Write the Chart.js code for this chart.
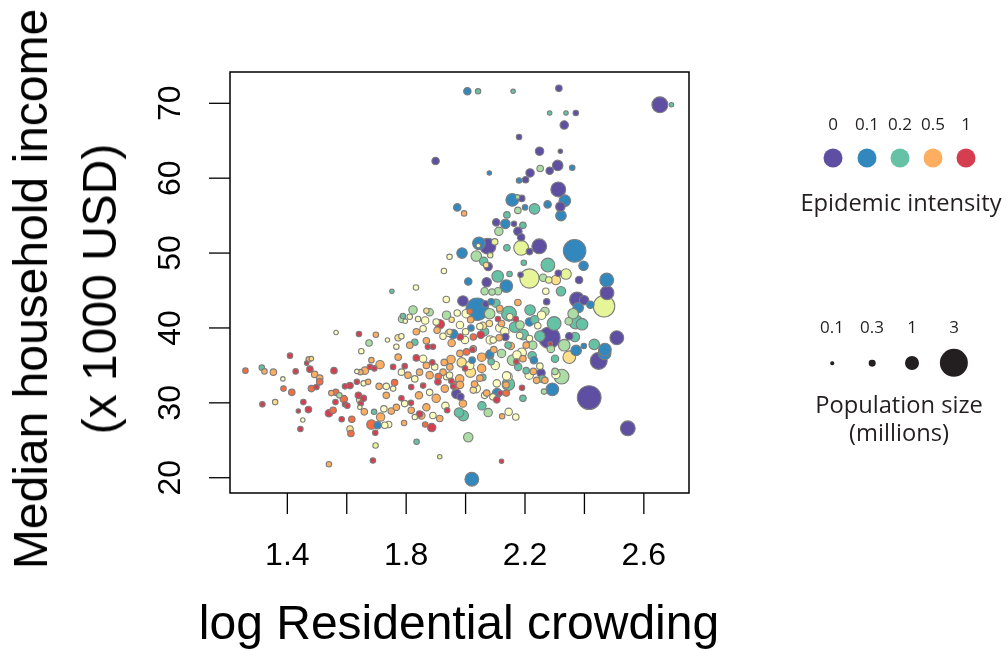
<!DOCTYPE html>
<html>
<head>
<meta charset="utf-8">
<script src="https://cdn.jsdelivr.net/npm/chart.js@4.4.0/dist/chart.umd.min.js"></script>
<style>
html, body { margin: 0; padding: 0; background: #fff; }
#wrap { position: relative; width: 1008px; height: 651px; overflow: hidden; }
#chart { position: absolute; left: 0; top: 0; }
.t { position: absolute; white-space: nowrap; line-height: 1; transform: translate(-50%, -50%); color: #000; }
.ax { font-family: "Liberation Sans", Arial, sans-serif; font-size: 48px; }
.rot { transform: translate(-50%, -50%) rotate(-90deg); }
.lg { font-family: "Open Sans", sans-serif; color: #231f20; }
.dot { position: absolute; border-radius: 50%; transform: translate(-50%, -50%); }
</style>
</head>
<body>
<div id="wrap">
    <canvas id="chart" width="1008" height="651"></canvas>
    <div class="t ax rot" style="left:31px; top:289px;">Median household income</div>
    <div class="t ax rot" style="left:100px; top:289px;">(x 1000 USD)</div>
    <div class="t ax" style="left:459px; top:623px;">log Residential crowding</div>
    <div id="legend"></div>
</div>

<script>
// x = log residential crowding, y = median household income (1000 USD), pop in millions
// one array per epidemic intensity level
const int000 = [
    [2.180, 65.5, 0.19], [1.899, 62.3, 0.33], [2.217, 60.7, 0.41], [2.202, 59.8, 0.26],
    [2.189, 57.3, 0.26], [2.314, 72.0, 0.26], [2.654, 69.8, 1.18], [2.371, 68.7, 0.19],
    [2.332, 67.1, 0.41], [2.249, 63.6, 0.41], [2.319, 63.6, 0.13], [2.283, 61.0, 0.33],
    [2.310, 61.7, 0.60], [2.312, 58.5, 1.05], [2.319, 56.2, 0.50], [2.103, 54.1, 0.33],
    [2.163, 53.9, 0.19], [2.176, 52.9, 0.41], [2.187, 52.1, 0.33], [2.075, 50.9, 1.18],
    [2.215, 50.2, 0.26], [2.076, 48.2, 0.41], [2.071, 46.1, 0.50], [2.185, 47.1, 0.19],
    [1.991, 43.6, 0.60], [2.068, 43.2, 0.26], [2.134, 38.8, 0.33], [2.416, 30.7, 2.23],
    [2.546, 26.6, 1.05], [2.448, 35.6, 1.31], [2.254, 34.0, 0.41], [2.248, 50.9, 1.05],
    [2.312, 47.3, 0.26], [2.382, 46.4, 0.33], [2.476, 44.7, 0.93], [2.375, 43.8, 1.05],
    [2.399, 43.7, 0.50], [2.509, 38.7, 0.93], [2.282, 38.7, 1.90], [2.349, 38.9, 0.33],
    [1.969, 31.2, 0.50], [1.983, 30.8, 0.30], [2.273, 43.5, 0.26]
];
const int010 = [
    [2.006, 71.6, 0.33], [2.080, 60.7, 0.13], [2.180, 59.7, 0.19], [2.157, 57.1, 0.81],
    [1.972, 56.1, 0.33], [2.200, 56.1, 0.19], [2.359, 61.4, 0.19], [2.334, 57.0, 0.70],
    [2.276, 56.5, 0.33], [2.134, 53.9, 0.50], [2.045, 51.3, 0.81], [1.988, 50.0, 0.60],
    [2.009, 46.2, 0.33], [2.137, 45.6, 0.81], [2.039, 42.5, 2.05], [2.215, 40.8, 0.41],
    [2.021, 19.8, 0.93], [2.106, 31.3, 0.50], [2.081, 36.4, 0.41], [2.468, 36.6, 0.81],
    [2.292, 31.8, 0.81], [2.321, 55.0, 0.60], [2.367, 50.3, 2.05], [2.397, 48.3, 0.50],
    [2.475, 46.4, 0.93], [2.379, 42.7, 0.60], [2.420, 43.1, 0.33], [2.469, 37.1, 0.81],
    [2.398, 37.6, 0.19], [2.230, 35.7, 0.33], [2.082, 36.6, 0.33], [2.022, 35.7, 0.26],
    [1.704, 27.0, 0.33], [1.958, 39.2, 0.50], [2.018, 40.0, 0.26], [2.372, 37.0, 0.60],
    [2.086, 43.5, 0.26]
];
const int020 = [
    [2.042, 71.6, 0.19], [2.160, 71.6, 0.13], [2.693, 69.8, 0.13], [2.283, 68.7, 0.13],
    [2.338, 68.7, 0.13], [2.232, 55.9, 0.60], [2.139, 55.1, 0.26], [2.193, 53.7, 0.26],
    [2.139, 50.7, 0.26], [2.061, 48.9, 0.41], [2.196, 48.7, 0.19], [2.108, 46.9, 0.70],
    [2.148, 47.2, 0.19], [1.752, 44.9, 0.13], [2.146, 41.9, 1.05], [1.789, 41.6, 0.19],
    [2.165, 40.1, 0.60], [1.835, 24.8, 0.19], [1.992, 28.3, 0.60], [1.978, 28.7, 0.50],
    [2.055, 29.6, 0.41], [2.144, 32.5, 0.81], [2.301, 35.9, 0.33], [2.259, 33.2, 0.33],
    [2.277, 48.4, 0.93], [2.321, 44.9, 0.50], [2.298, 40.6, 0.93], [2.371, 40.8, 0.93],
    [2.392, 40.5, 0.70], [2.433, 37.8, 0.60], [2.368, 38.8, 0.50], [2.250, 38.9, 0.60],
    [2.194, 39.1, 0.60], [2.102, 43.3, 0.41], [2.064, 39.5, 0.41], [1.314, 34.7, 0.19],
    [1.692, 28.8, 0.19], [1.829, 38.1, 0.26], [2.086, 35.5, 0.26], [2.204, 34.3, 0.26],
    [2.224, 36.3, 0.41], [2.217, 42.4, 0.60], [2.233, 41.1, 0.41], [2.177, 34.8, 0.33],
    [2.143, 37.7, 0.26], [2.058, 33.4, 0.26], [2.193, 30.6, 0.26]
];
const int025 = [
    [2.175, 57.5, 0.13], [2.176, 55.7, 0.26], [2.112, 52.9, 0.41], [2.036, 49.6, 0.60],
    [2.109, 44.9, 0.33], [2.064, 44.9, 0.33], [2.089, 44.8, 0.26], [1.823, 42.4, 0.41],
    [1.879, 42.1, 0.33], [2.081, 41.9, 0.60], [2.009, 25.4, 0.50], [2.076, 28.7, 0.41],
    [2.323, 33.5, 1.05], [2.264, 31.5, 0.19], [2.251, 61.3, 0.26], [2.261, 46.7, 0.33],
    [2.267, 42.2, 0.41], [2.362, 41.9, 0.60], [2.347, 40.9, 0.33], [2.287, 37.2, 0.33],
    [2.332, 37.7, 0.70], [2.226, 37.7, 0.41], [2.158, 35.7, 0.60], [2.301, 34.2, 0.26],
    [1.936, 41.7, 0.41], [1.675, 38.0, 0.26], [1.575, 31.0, 0.19], [1.786, 41.2, 0.33],
    [2.183, 40.4, 0.41], [2.121, 36.6, 0.41]
];
const int030 = [
    [2.187, 50.7, 1.05], [2.215, 46.6, 1.60], [2.338, 47.2, 0.60], [2.280, 46.4, 0.26],
    [2.466, 42.9, 1.90], [1.913, 22.8, 0.13], [1.697, 24.3, 0.19], [2.098, 51.5, 0.26],
    [2.083, 49.7, 0.19]
];
const int035 = [
    [2.043, 51.0, 0.13], [1.946, 49.5, 0.19], [1.927, 47.6, 0.19], [1.833, 45.4, 0.19],
    [1.935, 43.8, 0.26], [1.864, 41.0, 0.33], [1.797, 40.9, 0.13], [2.115, 40.0, 0.41],
    [2.182, 39.0, 0.26], [2.145, 28.8, 0.33], [2.169, 28.1, 0.26], [2.143, 33.5, 0.41],
    [2.173, 36.4, 0.41], [2.100, 35.0, 0.41], [1.932, 29.6, 0.33], [1.741, 27.1, 0.26],
    [1.733, 32.2, 0.26], [2.304, 33.8, 0.41], [2.250, 34.9, 0.26], [2.270, 44.9, 0.26],
    [2.243, 40.3, 0.26], [2.189, 36.7, 0.50], [2.138, 33.6, 0.41], [2.132, 39.5, 0.41],
    [1.972, 42.0, 0.26], [2.116, 42.4, 0.26], [2.048, 40.2, 0.26], [1.942, 39.3, 0.26],
    [2.214, 33.7, 0.41], [1.385, 33.2, 0.13], [1.452, 27.7, 0.13], [1.564, 39.4, 0.13],
    [1.649, 36.9, 0.19], [1.634, 34.2, 0.13], [1.657, 32.6, 0.19], [1.644, 29.4, 0.13],
    [1.737, 38.4, 0.13], [1.812, 41.5, 0.19], [1.840, 41.2, 0.19], [1.924, 38.9, 0.26],
    [2.000, 39.5, 0.26], [2.083, 38.4, 0.41], [1.784, 34.1, 0.26], [1.857, 35.9, 0.33],
    [1.879, 31.4, 0.26], [1.756, 31.9, 0.19], [1.725, 29.2, 0.26], [1.829, 28.1, 0.19],
    [1.728, 27.0, 0.26], [2.036, 31.9, 0.41], [2.092, 30.8, 0.26], [2.256, 41.7, 0.41],
    [2.149, 41.5, 0.26], [1.981, 40.4, 0.33], [1.998, 38.4, 0.33], [2.093, 38.4, 0.26],
    [2.105, 32.6, 0.33], [1.936, 33.5, 0.26], [2.002, 41.9, 0.41], [2.215, 38.6, 0.26],
    [1.857, 39.9, 0.26], [1.901, 40.8, 0.26], [1.784, 38.9, 0.19], [1.767, 37.5, 0.19],
    [1.829, 33.2, 0.26], [1.896, 34.8, 0.26], [1.946, 33.7, 0.26], [1.795, 29.9, 0.26],
    [1.890, 28.3, 0.26], [2.014, 35.0, 0.41], [2.064, 31.0, 0.26]
];
const int040 = [
    [2.069, 48.4, 0.19], [2.304, 46.4, 0.50], [2.349, 36.1, 0.81], [1.359, 30.1, 0.19],
    [1.481, 35.9, 0.13], [1.645, 30.4, 0.33], [1.611, 26.5, 0.26], [2.016, 34.1, 0.60],
    [1.987, 35.4, 0.50], [1.868, 42.3, 0.19], [1.773, 38.7, 0.26], [1.946, 39.5, 0.19],
    [2.058, 40.3, 0.33], [2.080, 40.6, 0.26], [1.953, 41.1, 0.19], [2.026, 31.7, 0.26]
];
const int050 = [
    [1.995, 55.3, 0.19], [1.323, 34.2, 0.19], [1.353, 34.1, 0.26], [1.472, 35.8, 0.19],
    [1.492, 33.8, 0.26], [1.509, 33.3, 0.26], [1.548, 31.3, 0.19], [1.698, 39.1, 0.19],
    [1.683, 35.7, 0.19], [1.661, 34.3, 0.33], [1.646, 34.1, 0.19], [1.712, 35.1, 0.41],
    [1.672, 32.8, 0.19], [1.709, 32.2, 0.26], [1.659, 28.8, 0.26], [1.714, 28.1, 0.41],
    [1.540, 21.8, 0.19], [2.176, 43.4, 0.26], [1.868, 38.3, 0.26], [1.904, 39.7, 0.26],
    [2.095, 37.1, 0.26], [2.123, 28.2, 0.19], [1.991, 29.9, 0.33], [2.054, 34.6, 0.41],
    [1.951, 35.8, 0.41], [1.901, 30.6, 0.41], [1.843, 31.0, 0.33], [1.851, 28.3, 0.33],
    [1.793, 27.3, 0.19], [1.928, 35.4, 0.26], [1.773, 36.1, 0.26], [1.868, 35.0, 0.26],
    [1.879, 33.7, 0.33], [1.930, 31.9, 0.33], [1.733, 31.0, 0.26], [1.750, 28.9, 0.26],
    [1.817, 29.0, 0.26], [1.868, 29.4, 0.33], [1.980, 33.2, 0.41], [2.030, 32.5, 0.26],
    [2.228, 34.2, 0.26], [2.152, 37.6, 0.33], [2.113, 38.7, 0.26], [2.054, 36.1, 0.41],
    [2.026, 37.2, 0.26], [1.981, 32.4, 0.33], [1.953, 38.0, 0.33], [1.981, 36.6, 0.26],
    [2.136, 32.4, 0.26], [2.267, 33.0, 0.26], [2.239, 33.0, 0.26], [2.121, 40.6, 0.26],
    [2.017, 41.1, 0.26], [2.048, 33.3, 0.26], [1.947, 34.8, 0.26], [2.071, 31.3, 0.26],
    [2.115, 42.6, 0.26], [2.204, 37.7, 0.26], [1.834, 39.5, 0.26], [1.812, 37.7, 0.26],
    [1.806, 33.7, 0.26], [1.845, 34.1, 0.26], [1.924, 34.1, 0.26], [1.767, 29.4, 0.26],
    [1.913, 27.9, 0.26], [2.193, 35.9, 0.26]
];
const int070 = [
    [1.259, 34.3, 0.19], [1.387, 31.9, 0.19], [1.415, 31.4, 0.26], [1.481, 31.9, 0.26],
    [1.509, 32.8, 0.26], [1.563, 31.4, 0.26], [1.554, 29.0, 0.26], [1.590, 30.5, 0.33],
    [1.617, 27.8, 0.26], [1.614, 25.9, 0.26], [1.683, 27.1, 0.50], [2.014, 42.2, 0.19],
    [1.864, 27.1, 0.19], [2.137, 31.3, 0.26], [1.964, 32.3, 0.41], [1.761, 32.7, 0.26],
    [1.908, 33.5, 0.26], [2.003, 36.8, 0.26], [2.026, 38.8, 0.26]
];
const int100 = [
    [1.409, 36.3, 0.19], [1.428, 34.2, 0.19], [1.316, 29.8, 0.19], [1.465, 35.3, 0.13],
    [1.476, 34.5, 0.26], [1.498, 32.1, 0.19], [1.454, 30.1, 0.19], [1.437, 28.9, 0.13],
    [1.471, 29.1, 0.26], [1.444, 26.5, 0.19], [1.557, 34.3, 0.26], [1.540, 28.6, 0.33],
    [1.562, 30.1, 0.19], [1.641, 39.2, 0.19], [1.678, 34.8, 0.19], [1.693, 34.6, 0.19],
    [1.634, 32.8, 0.19], [1.611, 32.3, 0.26], [1.594, 32.2, 0.19], [1.639, 31.0, 0.26],
    [1.656, 30.6, 0.26], [1.647, 29.9, 0.19], [1.594, 29.8, 0.19], [1.602, 29.6, 0.19],
    [1.583, 27.8, 0.19], [1.696, 26.0, 0.19], [1.688, 22.3, 0.19], [1.913, 40.5, 0.50],
    [2.051, 39.1, 0.33], [2.169, 41.2, 0.19], [2.121, 22.2, 0.13], [1.886, 26.7, 0.41],
    [2.105, 30.4, 0.26], [2.190, 32.0, 0.19], [1.907, 32.8, 0.26], [1.938, 29.0, 0.19],
    [1.784, 30.6, 0.19], [1.816, 30.0, 0.19], [1.756, 34.8, 0.19], [1.998, 34.6, 0.19],
    [1.834, 36.0, 0.26], [1.873, 37.5, 0.19], [1.982, 38.8, 0.26], [2.109, 41.2, 0.19],
    [2.023, 37.1, 0.19], [2.285, 37.9, 0.13], [1.795, 34.9, 0.19], [1.888, 35.4, 0.19],
    [1.845, 28.5, 0.26], [1.952, 32.9, 0.19], [2.171, 35.5, 0.19], [1.958, 32.2, 0.19],
    [2.116, 31.3, 0.19], [1.890, 37.5, 0.19], [1.817, 32.1, 0.19], [1.857, 32.3, 0.19]
];

const intensityLevels = [0, 0.1, 0.2, 0.25, 0.3, 0.35, 0.4, 0.5, 0.7, 1];
const intensityGroups = [int000, int010, int020, int025, int030, int035, int040, int050, int070, int100];

const xTicks = [1.4, 1.6, 1.8, 2.0, 2.2, 2.4, 2.6];
const xTickLabels = ["1.4", "", "1.8", "", "2.2", "", "2.6"];
const yTicks = [20, 30, 40, 50, 60, 70];
const yTickLabels = ["20", "30", "40", "50", "60", "70"];

const intensityLegend = [0, 0.1, 0.2, 0.5, 1];
const intensityLegendLabels = ["0", "0.1", "0.2", "0.5", "1"];
const popLegend = [0.1, 0.3, 1, 3];
const popLegendLabels = ["0.1", "0.3", "1", "3"];

// spectral palette, one colour per intensity level
const spectral = ["#5e4fa2", "#3288bd", "#66c2a5", "#abdda4", "#e6f598",
                  "#ffffbf", "#fee08b", "#fdae61", "#f46d43", "#d53e4f"];

function colorFor(level) {
    return spectral[intensityLevels.indexOf(level)];
}

function radiusFor(pop) {
    return 6.7 * Math.pow(pop, 0.66);
}

const points = [];
intensityGroups.forEach((grp, gi) => {
    grp.forEach(([cx, inc, pop]) => {
        points.push({ x: cx, y: inc, pop: pop, level: intensityLevels[gi] });
    });
});
// big bubbles first so the small ones stay visible
points.sort((a, b) => b.pop - a.pop);

const rAxes = {
    id: "rAxes",
    afterDraw(chart) {
        const ctx = chart.ctx;
        const a = chart.chartArea;
        const sx = chart.scales.x;
        const sy = chart.scales.y;

        ctx.save();
        ctx.strokeStyle = "#000";
        ctx.fillStyle = "#000";
        ctx.lineWidth = 1.5;
        ctx.strokeRect(a.left, a.top, a.right - a.left, a.bottom - a.top);

        ctx.lineWidth = 1.3;
        ctx.font = '32px "Liberation Sans", Arial, sans-serif';
        ctx.textAlign = "center";
        ctx.textBaseline = "alphabetic";

        xTicks.forEach((v, i) => {
            const px = sx.getPixelForValue(v);
            ctx.beginPath();
            ctx.moveTo(px, a.bottom);
            ctx.lineTo(px, a.bottom + 21);
            ctx.stroke();
            if (xTickLabels[i]) ctx.fillText(xTickLabels[i], px, 565);
        });

        yTicks.forEach((v, i) => {
            const py = sy.getPixelForValue(v);
            ctx.beginPath();
            ctx.moveTo(a.left - 21, py);
            ctx.lineTo(a.left, py);
            ctx.stroke();
            ctx.save();
            ctx.translate(180, py);
            ctx.rotate(-Math.PI / 2);
            ctx.fillText(yTickLabels[i], 0, 0);
            ctx.restore();
        });
        ctx.restore();
    }
};

new Chart(document.getElementById("chart"), {
    type: "scatter",
    plugins: [rAxes],
    data: {
        datasets: [{
            data: points,
            pointRadius: (c) => radiusFor(c.raw.pop) + 0.5,
            pointHoverRadius: (c) => radiusFor(c.raw.pop) + 0.5,
            pointBackgroundColor: (c) => colorFor(c.raw.level),
            pointBorderColor: "#7d7d7d",
            pointBorderWidth: 1.1
        }]
    },
    options: {
        responsive: false,
        animation: false,
        events: [],
        layout: {
            padding: { left: 230, right: 319, top: 72, bottom: 158 }
        },
        plugins: {
            legend: { display: false },
            tooltip: { enabled: false }
        },
        scales: {
            x: { type: "linear", min: 1.207, max: 2.752, display: false },
            y: { type: "linear", min: 17.96, max: 74.18, display: false }
        }
    }
});

// legends on the right
const legend = document.getElementById("legend");

function addText(txt, cx, cy, size) {
    const d = document.createElement("div");
    d.className = "t lg";
    d.style.left = cx + "px";
    d.style.top = cy + "px";
    d.style.fontSize = size + "px";
    d.textContent = txt;
    legend.appendChild(d);
}

function addDot(cx, cy, r, color) {
    const d = document.createElement("div");
    d.className = "dot";
    d.style.left = cx + "px";
    d.style.top = cy + "px";
    d.style.width = (2 * r) + "px";
    d.style.height = (2 * r) + "px";
    d.style.background = color;
    legend.appendChild(d);
}

const intensityX = [833, 867, 900, 933, 966];
intensityLegend.forEach((v, i) => {
    addText(intensityLegendLabels[i], intensityX[i], 123, 17);
    addDot(intensityX[i], 158, 9.5, colorFor(v));
});
addText("Epidemic intensity", 901, 203, 23.7);

const popX = [832, 872, 912, 954];
popLegend.forEach((v, i) => {
    addText(popLegendLabels[i], popX[i], 326, 17);
    addDot(popX[i], 363, radiusFor(v) + 0.3, "#231f20");
});
addText("Population size", 899, 405, 23.7);
addText("(millions)", 899, 433, 23.7);
</script>
</body>
</html>
